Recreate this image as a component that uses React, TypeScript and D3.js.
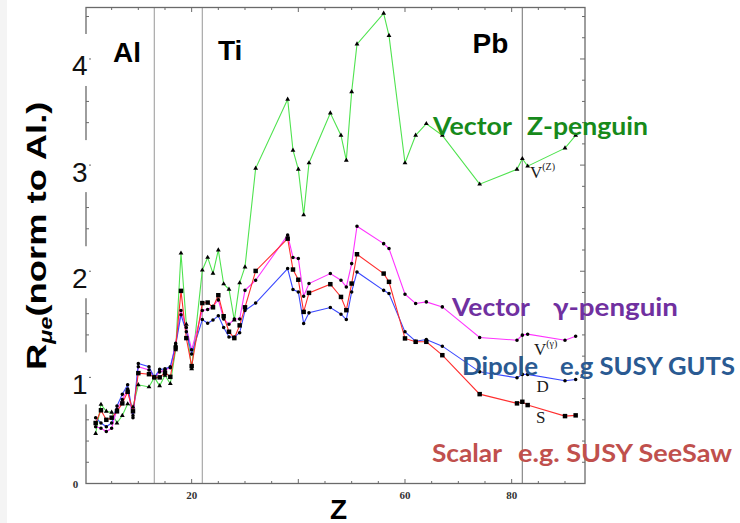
import React from "react";
import * as d3 from "d3";

const Z = [2,3,4,5,6,7,8,9,10,12,13,14,15,16,17,18,19,20,22,23,24,25,26,27,28,29,30,32,38,39,40,41,42,46,48,49,50,51,56,57,60,62,64,67,74,81,82,83,90,92];

const vectorZ = [0.47,0.745,0.68,0.67,0.57,0.64,0.75,0.72,0.93,0.91,1.0,0.92,1.02,0.94,1.26,2.17,1.5,1.08,2.01,2.13,1.98,2.2,1.88,1.83,1.54,1.89,2.04,2.97,3.62,3.14,2.96,2.53,3.02,3.49,3.28,3.045,3.69,4.14,4.43,4.22,3.02,3.28,3.39,3.28,2.82,2.96,3.06,2.99,3.16,3.28];

const vectorGamma = [0.535,0.52,0.49,0.52,0.7,0.79,0.89,0.62,1.1,1.07,1.0,1.05,1.07,1.09,1.32,1.63,1.47,1.26,1.63,1.64,1.67,1.73,1.55,1.5,1.55,1.55,1.82,1.915,2.34,2.13,2.12,1.765,1.884,1.978,1.915,1.852,2.072,2.424,2.26,2.214,1.784,1.696,1.711,1.664,1.376,1.35,1.398,1.407,1.35,1.388];

const dipole = [0.62,0.57,0.535,0.57,0.73,0.84,0.93,0.64,1.13,1.1,1.0,1.075,1.08,1.1,1.3,1.59,1.43,1.22,1.545,1.51,1.54,1.58,1.47,1.38,1.38,1.42,1.63,1.7,2.025,1.828,1.805,1.508,1.608,1.658,1.595,1.545,1.805,1.993,1.82,1.79,1.429,1.341,1.357,1.294,1.052,0.996,1.028,1.028,0.968,0.98];

const scalar = [0.57,0.69,0.6,0.62,0.68,0.755,0.864,0.68,1.04,1.03,1.0,1.0,1.043,1.005,1.28,1.815,1.37,1.106,1.7,1.705,1.66,1.774,1.576,1.43,1.37,1.49,1.66,2.003,2.307,2.016,1.92,1.617,1.796,1.878,1.758,1.633,1.884,2.16,1.978,1.9,1.367,1.335,1.335,1.209,0.842,0.755,0.77,0.739,0.635,0.642];

const nucleusLines = [13, 22, 82];
const nucleusLabels = ["Al", "Ti", "Pb"];
const xTickLabels = [20, 60, 80];
const yTickLabels = [1, 2, 3, 4];

const W = 740, H = 523;
const L = 86, R = 585, T = 7.5, B = 483.5;

const x = d3.scaleLinear().domain([0.19, 93.75]).range([L, R]);
const y = d3.scaleLinear().domain([0, 4.485]).range([B, T]);

type Series = { name: string; values: number[]; color: string; marker: string; size: number };
const series: Series[] = [
  { name: "vz", values: vectorZ, color: "#4fe34f", marker: "triangle", size: 10 },
  { name: "vg", values: vectorGamma, color: "#ff33ff", marker: "circle", size: 10 },
  { name: "d", values: dipole, color: "#3a48ff", marker: "circle", size: 10 },
  { name: "s", values: scalar, color: "#ff2e2e", marker: "square", size: 20 },
];

const sans = "'Liberation Sans', Arial, sans-serif";
const serif = "'Liberation Serif', 'Times New Roman', serif";
const label = "Lato, 'Open Sans', sans-serif";

export default function App() {
  const line = d3.line<number>().x((_, i) => x(Z[i])).y((v) => y(v));
  const sym = (m: string, s: number) =>
    d3.symbol().type(m === "triangle" ? d3.symbolTriangle : m === "square" ? d3.symbolSquare : d3.symbolCircle).size(s)()!;

  const xMinor = d3.range(5, 95, 5);
  const yMinor = d3.range(1, 23).map((k) => k * 0.2);
  const frame = "#6a6a6a";

  return (
    <svg width={W} height={H} style={{ position: "absolute", left: 0, top: 0, background: "#fff" }}>
      <rect x={0} y={0} width={7} height={H} fill="#f4f4f4" />
      {nucleusLines.map((z, i) => (
        <line key={z} x1={x(z)} x2={x(z)} y1={T} y2={B} stroke={i < 2 ? "#a8a8a8" : "#888"} strokeWidth={1.2} />
      ))}
      <rect x={L} y={T} width={R - L} height={B - T} fill="none" stroke={frame} strokeWidth={1.3} />
      {xMinor.map((t) => {
        const major = t % 20 === 0;
        const len = major ? 4.5 : 2.5;
        return (
          <g key={"xt" + t}>
            <line x1={x(t)} x2={x(t)} y1={B} y2={B - len} stroke={frame} strokeWidth={1} />
            <line x1={x(t)} x2={x(t)} y1={T} y2={T + len} stroke={frame} strokeWidth={1} />
          </g>
        );
      })}
      {yMinor.map((t) => {
        const major = Math.abs(t - Math.round(t)) < 1e-6;
        const len = major ? 5 : 3;
        return (
          <g key={"yt" + t}>
            <line x1={L} x2={L + len} y1={y(t)} y2={y(t)} stroke={frame} strokeWidth={1} />
            <line x1={R} x2={R - len} y1={y(t)} y2={y(t)} stroke={frame} strokeWidth={1} />
          </g>
        );
      })}
      {series.map((s) => (
        <path key={s.name} d={line(s.values)!} fill="none" stroke={s.color} strokeWidth={1.1} />
      ))}
      {series.map((s) => (
        <g key={s.name + "m"}>
          {s.values.map((v, i) => (
            <path key={i} d={sym(s.marker, s.size)} transform={`translate(${x(Z[i])},${y(v)})`} fill="#000" />
          ))}
        </g>
      ))}
      {xTickLabels.map((t) => (
        <text key={"xl" + t} x={x(t)} y={499} textAnchor="middle" fontFamily={serif} fontSize={11} fontWeight="bold" fill="#333">
          {t}
        </text>
      ))}
      <text x={75.5} y={488} textAnchor="middle" fontFamily={serif} fontSize={11} fontWeight="bold" fill="#333">0</text>
      {yTickLabels.map((t) => (
        <g key={"yl" + t}>
          <rect x={64} y={y(t) - 25} width={25} height={52} fill="#fff" />
          <text x={72} y={y(t) + 16.5} fontFamily={sans} fontSize={28} fill="#111">{t}</text>
        </g>
      ))}
      {nucleusLabels.map((n, i) => (
        <text key={n} x={[113, 218, 472.5][i]} y={[62, 60, 53][i]} fontFamily={sans} fontSize={28} fontWeight="bold" fill="#000">
          {n}
        </text>
      ))}
      <text x={330} y={518.5} fontFamily={sans} fontSize={28} fontWeight="bold" fill="#000">Z</text>
      <g transform="translate(46,370) rotate(-90) scale(1.3,1)">
        <text x={0} y={0} fontFamily={sans} fontSize={28} fontWeight="bold" fill="#000">
          R
          <tspan fontSize={18} fontStyle="italic" dy={6}>μe</tspan>
          <tspan dy={-6}>(norm to Al.)</tspan>
        </text>
      </g>
      <g fontFamily={label} fontWeight="bold" fontSize={25}>
        <text x={433} y={135} fill="#178a1b" textLength={79} lengthAdjust="spacingAndGlyphs">Vector</text>
        <text x={527} y={135} fill="#178a1b" textLength={121} lengthAdjust="spacingAndGlyphs">Z-penguin</text>
        <text x={452} y={316} fill="#7030a0" textLength={78} lengthAdjust="spacingAndGlyphs">Vector</text>
        <text x={553} y={316} fill="#7030a0" textLength={125} lengthAdjust="spacingAndGlyphs">γ-penguin</text>
        <text x={462} y={375} fill="#2a5a92" textLength={76} lengthAdjust="spacingAndGlyphs">Dipole</text>
        <text x={560} y={375} fill="#2a5a92" textLength={175} lengthAdjust="spacingAndGlyphs">e.g SUSY GUTS</text>
        <text x={432} y={461.5} fill="#c0504d" textLength={70} lengthAdjust="spacingAndGlyphs">Scalar</text>
        <text x={518} y={461.5} fill="#c0504d" textLength={214} lengthAdjust="spacingAndGlyphs">e.g. SUSY SeeSaw</text>
      </g>
      <g fontFamily={serif} fill="#1a1a1a">
        <text x={530} y={178} fontSize={17}>V<tspan fontSize={10} dy={-8}>(Z)</tspan></text>
        <text x={534} y={355} fontSize={17}>V<tspan fontSize={10} dy={-8}>(γ)</tspan></text>
        <text x={536.5} y={392} fontSize={17}>D</text>
        <text x={536} y={423} fontSize={17}>S</text>
      </g>
    </svg>
  );
}
